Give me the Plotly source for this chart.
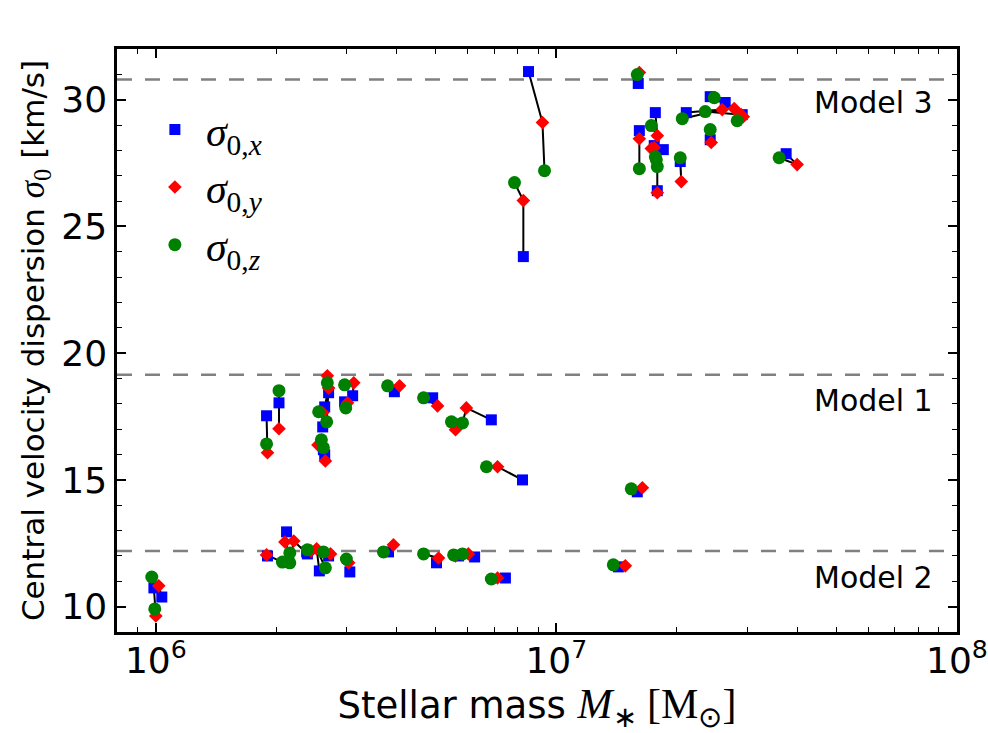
import numpy as np
import plotly.graph_objects as go

# Central velocity dispersion vs stellar mass for three models.
# Each galaxy has one value per line-of-sight projection (x, y, z);
# masses are given in units of 1e6 Msun.

# ---- Model 2 (low-dispersion band) ----
m2_mass_x = [0.989, 1.035, 1.90, 2.12, 2.39, 2.56, 2.70, 2.38, 3.05, 3.81, 5.02, 5.70, 6.25, 7.46, 14.28]
m2_sig_x = [10.74, 10.38, 12.00, 12.95, 12.08, 11.41, 12.00, 12.16, 11.37, 12.16, 11.73, 12.00, 11.96, 11.13, 11.57]
m2_mass_y = [1.000, 1.017, 1.89, 2.10, 2.21, 2.52, 2.73, 2.44, 3.03, 3.92, 5.08, 5.60, 6.03, 7.13, 14.86]
m2_sig_y = [9.63, 10.82, 12.04, 12.55, 12.59, 12.28, 12.08, 12.20, 11.73, 12.44, 11.92, 12.00, 12.08, 11.13, 11.61]
m2_mass_z = [0.994, 0.977, 2.07, 2.16, 2.16, 2.65, 2.62, 2.39, 2.99, 3.70, 4.66, 5.54, 5.83, 6.88, 13.87]
m2_sig_z = [9.91, 11.17, 11.76, 12.12, 11.73, 11.53, 12.16, 12.24, 11.88, 12.16, 12.08, 12.04, 12.08, 11.09, 11.65]

# ---- Model 1 (intermediate band) ----
m1_mass_x = [1.89, 2.03, 2.70, 2.64, 2.61, 2.62, 2.64, 3.10, 2.96, 3.94, 4.91, 6.88, 5.63, 8.23, 15.92]
m1_sig_x = [17.53, 18.04, 18.44, 17.88, 17.09, 16.19, 15.99, 18.32, 18.08, 18.48, 18.24, 17.37, 17.21, 15.00, 14.53]
m1_mass_y = [1.90, 2.03, 2.68, 2.70, 2.61, 2.54, 2.65, 3.12, 3.01, 4.06, 5.05, 5.96, 5.60, 7.13, 16.39]
m1_sig_y = [16.07, 17.02, 19.11, 18.63, 17.65, 16.38, 15.75, 18.83, 18.04, 18.71, 17.92, 17.84, 16.98, 15.52, 14.69]
m1_mass_z = [1.89, 2.03, 2.68, 2.67, 2.55, 2.59, 2.62, 2.96, 2.98, 3.79, 4.66, 5.83, 5.47, 6.69, 15.38]
m1_sig_z = [16.42, 18.52, 18.83, 17.29, 17.69, 16.58, 16.27, 18.75, 17.84, 18.71, 18.24, 17.25, 17.29, 15.52, 14.65]

# ---- Model 3 (high-dispersion band) ----
m3_mass_x = [8.52, 8.27, 16.01, 17.66, 16.11, 17.86, 18.49, 17.55, 20.38, 21.10, 24.21, 26.39, 29.10, 24.21, 37.46]
m3_sig_x = [31.11, 23.81, 30.64, 29.49, 28.78, 26.41, 28.03, 28.19, 27.56, 29.49, 30.12, 29.89, 29.41, 28.42, 27.87]
m3_mass_y = [9.23, 8.27, 16.11, 17.86, 16.11, 17.86, 17.55, 17.26, 20.50, 25.94, 27.79, 28.93, 29.27, 24.35, 39.90]
m3_sig_y = [29.10, 26.02, 31.07, 28.58, 28.46, 26.33, 28.11, 28.07, 26.77, 29.61, 29.65, 29.41, 29.33, 28.31, 27.44]
m3_mass_z = [9.34, 7.86, 15.92, 17.26, 16.11, 17.86, 17.66, 17.76, 20.38, 20.62, 24.78, 23.53, 28.27, 24.21, 35.98]
m3_sig_z = [27.20, 26.73, 30.99, 28.98, 27.28, 27.36, 27.75, 27.63, 27.71, 29.25, 30.08, 29.53, 29.17, 28.82, 27.71]

# Reference dispersion level of each model and its label
model_names = ["Model 3", "Model 1", "Model 2"]
model_levels = [30.8, 19.15, 12.2]
label_y = [29.9, 18.12, 11.17]

MASS_UNIT = 1e6

models = [
    (m3_mass_x, m3_sig_x, m3_mass_y, m3_sig_y, m3_mass_z, m3_sig_z),
    (m1_mass_x, m1_sig_x, m1_mass_y, m1_sig_y, m1_mass_z, m1_sig_z),
    (m2_mass_x, m2_sig_x, m2_mass_y, m2_sig_y, m2_mass_z, m2_sig_z),
]

# Concatenate all galaxies of all models
mx, sx, my, sy, mz, sz = [np.concatenate([np.asarray(m[i], float) for m in models]) for i in range(6)]
mx, my, mz = mx * MASS_UNIT, my * MASS_UNIT, mz * MASS_UNIT

# Connector x -> y -> z for each galaxy, separated by gaps
line_m, line_s = [], []
for i in range(len(mx)):
    line_m += [mx[i], my[i], mz[i], None]
    line_s += [sx[i], sy[i], sz[i], None]

fig = go.Figure()
fig.add_trace(go.Scatter(x=line_m, y=line_s, mode="lines",
                         line=dict(color="black", width=2),
                         showlegend=False, hoverinfo="skip"))

LEG_FONT = dict(family="Liberation Serif", size=42, color="black")
fig.add_trace(go.Scatter(x=mx, y=sx, mode="markers", name="<i>σ</i><sub>0,<i>x</i></sub>",
                         legendgroup="x",
                         marker=dict(symbol="square", size=11, color="#0000ff", line=dict(width=0))))
fig.add_trace(go.Scatter(x=my, y=sy, mode="markers", name="<i>σ</i><sub>0,<i>y</i></sub>",
                         legendgroup="y",
                         marker=dict(symbol="diamond", size=10.5, color="#ff0000", line=dict(width=0))))
fig.add_trace(go.Scatter(x=mz, y=sz, mode="markers", name="<i>σ</i><sub>0,<i>z</i></sub>",
                         legendgroup="z",
                         marker=dict(symbol="circle", size=13, color="#008000", line=dict(width=0))))

# Dashed reference levels and model labels
for name, lev, ly in zip(model_names, model_levels, label_y):
    fig.add_shape(type="line", xref="paper", x0=0, x1=1, yref="y", y0=lev, y1=lev,
                  line=dict(color="#808080", width=2.5, dash="15px,13px"), layer="below")
    fig.add_annotation(text=name, xref="paper", x=0.974, xanchor="right",
                       yref="y", y=ly, yanchor="middle", showarrow=False,
                       font=dict(family="DejaVu Sans", size=30, color="black"))

major_x = [1e6, 1e7, 1e8]
major_x_text = ["10<sup>6</sup>", "10<sup>7</sup>", "10<sup>8</sup>"]
minor_x = [k * 10 ** e for e in (5, 6, 7) for k in range(2, 10)]

AX_FONT = dict(family="DejaVu Sans", size=36, color="black")

fig.update_layout(
    width=988, height=733,
    margin=dict(l=117, r=31, t=49, b=101, autoexpand=False),
    paper_bgcolor="white", plot_bgcolor="white",
    font=dict(family="DejaVu Sans", color="black"),
    showlegend=True,
    legend=dict(x=0.032, y=0.92, xanchor="left", yanchor="top",
                bgcolor="rgba(0,0,0,0)", borderwidth=0,
                font=LEG_FONT, tracegroupgap=0, itemwidth=52),
    xaxis=dict(
        type="log", range=[np.log10(8e5), 8.0001],
        tickmode="array", tickvals=major_x, ticktext=major_x_text,
        ticks="inside", ticklen=9, tickwidth=1.5, tickcolor="black",
        minor=dict(tickmode="array", tickvals=minor_x, ticks="inside",
                   ticklen=5, tickwidth=1.2, tickcolor="black", showgrid=False),
        showline=True, linecolor="black", linewidth=2.5, mirror="allticks",
        showgrid=False, zeroline=False, automargin=False,
        tickfont=AX_FONT, ticklabelstandoff=-5, ticklabeloverflow="allow",
        title=dict(text="Stellar mass <span style='font-family:Liberation Serif;font-size:42px'><i>M</i><sub>∗</sub> [M<sub>⊙</sub>]</span>",
                   font=dict(family="DejaVu Sans", size=37, color="black"), standoff=18),
    ),
    yaxis=dict(
        range=[9, 32],
        tickmode="array", tickvals=[10, 15, 20, 25, 30],
        ticks="inside", ticklen=9, tickwidth=1.5, tickcolor="black",
        minor=dict(dtick=1, tick0=0, ticks="inside", ticklen=5, tickwidth=1.2,
                   tickcolor="black", showgrid=False),
        showline=True, linecolor="black", linewidth=2.5, mirror="allticks",
        showgrid=False, zeroline=False, automargin=False,
        tickfont=AX_FONT, ticklabelstandoff=0,
        title=dict(text="Central velocity dispersion <span style='font-family:Liberation Serif;font-size:35px'><i>σ</i><sub>0</sub></span> [km/s]",
                   font=dict(family="DejaVu Sans", size=31, color="black"), standoff=8),
    ),
)

fig.write_html("out.html")
